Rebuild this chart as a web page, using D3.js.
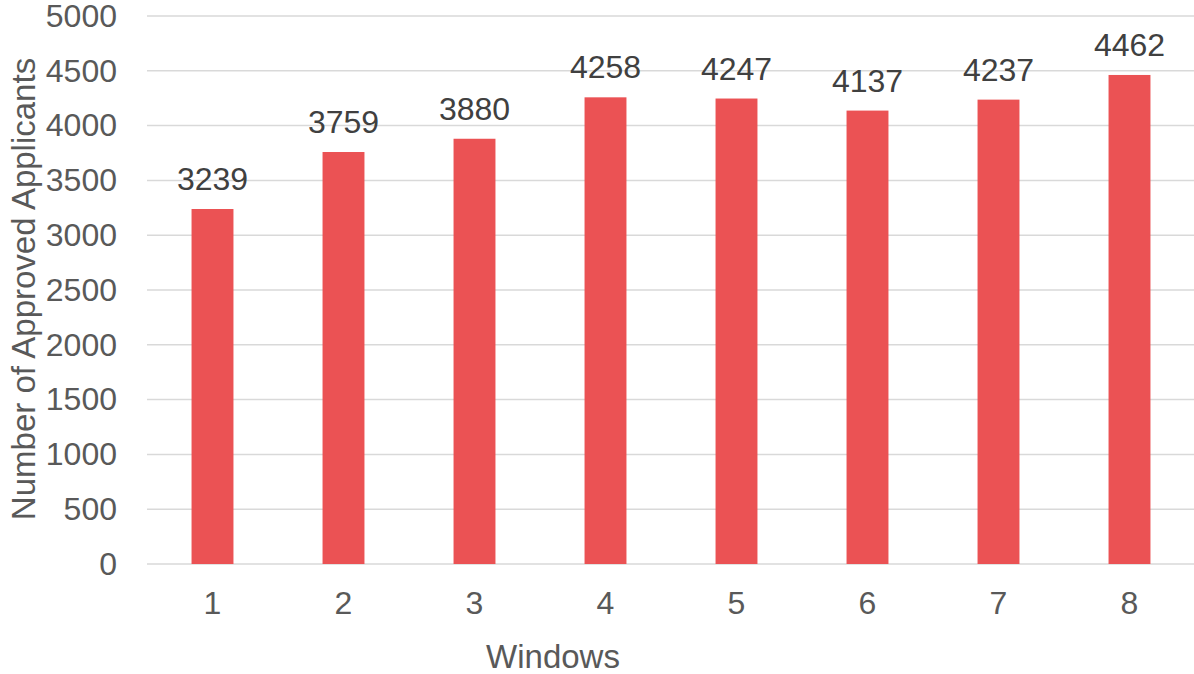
<!DOCTYPE html>
<html>
<head>
<meta charset="utf-8">
<script src="https://cdn.jsdelivr.net/npm/d3@7"></script>
<style>
  html, body { margin: 0; padding: 0; background: #fff; }
  svg text { font-family: "Liberation Sans", Arial, sans-serif; }
</style>
</head>
<body>
<svg id="chart" width="1194" height="674"></svg>
<script>
// Approved applicants per window
const windows = ["1", "2", "3", "4", "5", "6", "7", "8"];
const approved = [3239, 3759, 3880, 4258, 4247, 4137, 4237, 4462];
const yTicks = [0, 500, 1000, 1500, 2000, 2500, 3000, 3500, 4000, 4500, 5000];

const svg = d3.select("#chart");
const plot = { left: 147, right: 1195, top: 16, bottom: 564 };

const x = d3.scaleBand().domain(windows).range([plot.left, plot.right]).paddingInner(0.68).paddingOuter(0.34);
const y = d3.scaleLinear().domain([0, 5000]).range([plot.bottom, plot.top]);

// horizontal gridlines
svg.append("g")
  .selectAll("line")
  .data(yTicks)
  .join("line")
  .attr("x1", plot.left).attr("x2", plot.right)
  .attr("y1", d => y(d)).attr("y2", d => y(d))
  .attr("stroke", "#d9d9d9").attr("stroke-width", 1.5);

// y axis labels
const yAxis = svg.append("g")
  .attr("transform", `translate(${plot.left - 30},0)`)
  .call(d3.axisLeft(y).tickValues(yTicks).tickFormat(d3.format("d")).tickSize(0).tickPadding(0));
yAxis.select(".domain").remove();
yAxis.selectAll("text")
  .attr("font-size", 32).attr("fill", "#595959")
  .attr("font-family", "Liberation Sans, Arial, sans-serif");

// x axis labels
const xAxis = svg.append("g")
  .attr("transform", `translate(0,${plot.bottom})`)
  .call(d3.axisBottom(x).tickSize(0).tickPadding(27));
xAxis.select(".domain").remove();
xAxis.selectAll("text")
  .attr("font-size", 32).attr("fill", "#595959")
  .attr("font-family", "Liberation Sans, Arial, sans-serif");

// bars
svg.append("g")
  .selectAll("rect")
  .data(approved)
  .join("rect")
  .attr("x", (d, i) => x(windows[i]))
  .attr("width", x.bandwidth())
  .attr("y", d => y(d))
  .attr("height", d => plot.bottom - y(d))
  .attr("fill", "#eb5254");

// value labels
svg.append("g")
  .selectAll("text")
  .data(approved)
  .join("text")
  .attr("x", (d, i) => x(windows[i]) + x.bandwidth() / 2)
  .attr("y", d => y(d) - 19)
  .attr("text-anchor", "middle")
  .attr("font-size", 32)
  .attr("fill", "#404040")
  .text(d => d);

// axis titles
svg.append("text")
  .attr("x", 553).attr("y", 668)
  .attr("text-anchor", "middle")
  .attr("font-size", 33).attr("fill", "#595959")
  .text("Windows");

svg.append("text")
  .attr("transform", "translate(35,289) rotate(-90)")
  .attr("text-anchor", "middle")
  .attr("font-size", 33).attr("fill", "#595959")
  .text("Number of Approved Applicants");
</script>
</body>
</html>
